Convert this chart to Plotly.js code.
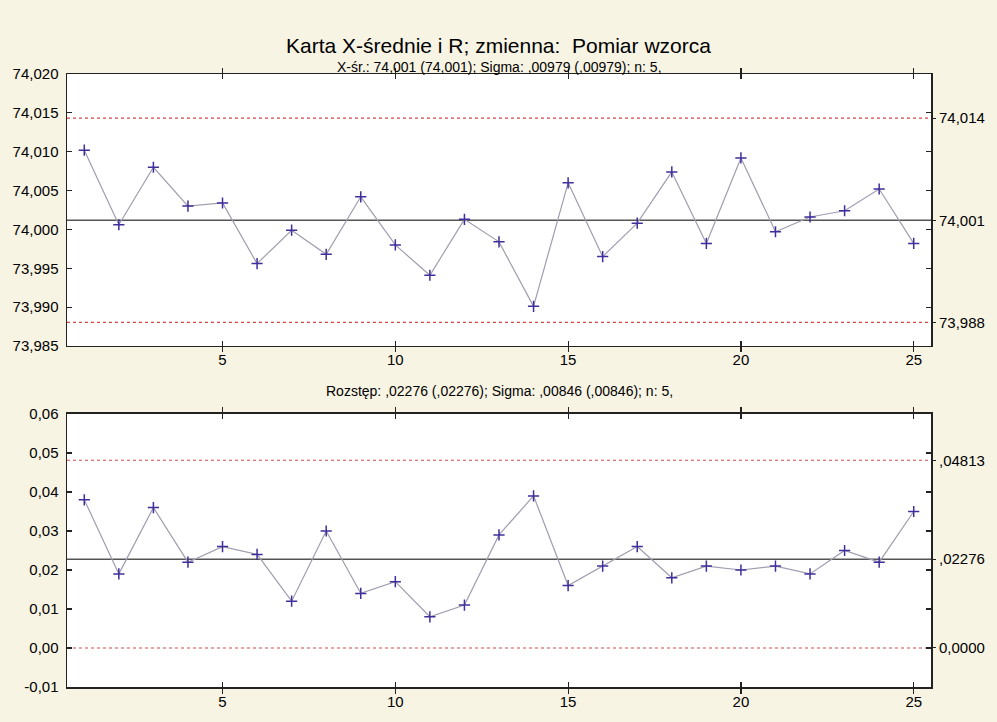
<!DOCTYPE html>
<html>
<head>
<meta charset="utf-8">
<script src="https://cdn.plot.ly/plotly-3.0.1.min.js"></script>
<style>
html,body{margin:0;padding:0;background:#f8f4e4;}
#chart{width:997px;height:722px;}
</style>
</head>
<body>
<div id="chart"></div>
<script>
// ---- data ----
const samples = [1,2,3,4,5,6,7,8,9,10,11,12,13,14,15,16,17,18,19,20,21,22,23,24,25];
const xbar = [74.0102,74.0006,74.0080,74.0030,74.0034,73.9956,73.9999,73.9968,74.0042,73.9980,
              73.9941,74.0013,73.9984,73.9901,74.0060,73.9965,74.0008,74.0074,73.9982,74.0092,
              73.9997,74.0016,74.0024,74.0052,73.9982];
const ranges = [0.038,0.019,0.036,0.022,0.026,0.024,0.012,0.030,0.014,0.017,
                0.008,0.011,0.029,0.039,0.016,0.021,0.026,0.018,0.021,0.020,
                0.021,0.019,0.025,0.022,0.035];
const xbarLimits = [73.98805, 74.00118, 74.01431];   // LCL, CL, UCL
const xbarLimitLabels = ["73,988", "74,001", "74,014"];
const rLimits = [0.0, 0.02276, 0.04813];
const rLimitLabels = ["0,0000", ",02276", ",04813"];
const xTickVals = [5,10,15,20,25];
const xTickText = ["5","10","15","20","25"];
const yTopTicks = [73.985,73.990,73.995,74.000,74.005,74.010,74.015,74.020];
const yTopTickText = ["73,985","73,990","73,995","74,000","74,005","74,010","74,015","74,020"];
const yBotTicks = [-0.01,0.00,0.01,0.02,0.03,0.04,0.05,0.06];
const yBotTickText = ["-0,01","0,00","0,01","0,02","0,03","0,04","0,05","0,06"];
const mainTitle = "Karta X-średnie i R; zmienna:  Pomiar wzorca";
const sub1 = "X-śr.: 74,001 (74,001); Sigma: ,00979 (,00979); n: 5,";
const sub2 = "Rozstęp: ,02276 (,02276); Sigma: ,00846 (,00846); n: 5,";

// ---- styling ----
const FONT = "Liberation Sans, Arial, sans-serif";
const lineCol = "#a29cae";
const markCol = "#3e2f9c";
const clCol = "#555555";
const limCol = "#d24a4a";

function series(y, xa, ya){
  return {
    x: samples, y: y, xaxis: xa, yaxis: ya, type: "scatter", mode: "lines+markers",
    line: {color: lineCol, width: 1.2},
    marker: {symbol: "cross-thin", size: 8, color: markCol, line: {color: markCol, width: 1.5}},
    showlegend: false, hoverinfo: "x+y"
  };
}
function dummy(xa, ya, y){
  return {x:[samples[0]], y:[y], xaxis: xa, yaxis: ya, mode: "markers",
          marker:{opacity:0}, showlegend:false, hoverinfo:"skip"};
}

const traces = [
  series(xbar, "x", "y"),
  series(ranges, "x2", "y2"),
  dummy("x", "y3", xbarLimits[1]),
  dummy("x2", "y4", rLimits[1])
];

function limShapes(vals, yref, xref){
  return vals.map((v, i) => ({
    type: "line", xref: xref + " domain", yref: yref, x0: 0, x1: 1, y0: v, y1: v,
    line: i === 1 ? {color: clCol, width: 1.6} : {color: limCol, width: 1.2, dash: "dot"},
    layer: "below"
  }));
}

const axBase = {
  showgrid: false, zeroline: false, showline: true, linecolor: "#222", linewidth: 1.5,
  mirror: "allticks", ticks: "inside", ticklen: 5, tickcolor: "#222", tickwidth: 1.2,
  tickfont: {family: FONT, size: 15, color: "#000"}
};

const layout = {
  width: 997, height: 722,
  paper_bgcolor: "#f8f4e4", plot_bgcolor: "#ffffff",
  margin: {l: 67, r: 66, t: 74, b: 35},
  font: {family: FONT, color: "#000"},
  title: {text: mainTitle, font: {family: FONT, size: 21, color: "#000"},
          x: 0.5, xanchor: "center", y: 0.937, yanchor: "middle", yref: "container"},
  xaxis: Object.assign({}, axBase, {domain: [0,1], anchor: "y", range: [0.5, 25.5],
          tickvals: xTickVals, ticktext: xTickText}),
  yaxis: Object.assign({}, axBase, {domain: [0.5563, 1], anchor: "x", range: [73.985, 74.020],
          tickvals: yTopTicks, ticktext: yTopTickText, ticklabelstandoff: 4}),
  xaxis2: Object.assign({}, axBase, {domain: [0,1], anchor: "y2", range: [0.5, 25.5],
          tickvals: xTickVals, ticktext: xTickText}),
  yaxis2: Object.assign({}, axBase, {domain: [0, 0.4454], anchor: "x2", range: [-0.01, 0.06],
          tickvals: yBotTicks, ticktext: yBotTickText, ticklabelstandoff: 4}),
  yaxis3: {overlaying: "y", side: "right", anchor: "x", range: [73.985, 74.020],
          tickvals: xbarLimits, ticktext: xbarLimitLabels, showgrid: false, zeroline: false,
          showline: false, ticks: "outside", ticklen: 4, tickcolor: "#222",
          tickfont: {family: FONT, size: 15, color: "#000"}},
  yaxis4: {overlaying: "y2", side: "right", anchor: "x2", range: [-0.01, 0.06],
          tickvals: rLimits, ticktext: rLimitLabels, showgrid: false, zeroline: false,
          showline: false, ticks: "outside", ticklen: 4, tickcolor: "#222",
          tickfont: {family: FONT, size: 15, color: "#000"}},
  shapes: limShapes(xbarLimits, "y", "x").concat(limShapes(rLimits, "y2", "x2")),
  annotations: [
    {text: sub1, xref: "paper", yref: "paper", x: 0.5, y: (687 - 67) / 613, xanchor: "center",
     yanchor: "middle", showarrow: false, font: {family: FONT, size: 14, color: "#000"}},
    {text: sub2, xref: "paper", yref: "paper", x: 0.5, y: (687 - 391) / 613, xanchor: "center",
     yanchor: "middle", showarrow: false, font: {family: FONT, size: 14, color: "#000"}}
  ]
};

Plotly.newPlot("chart", traces, layout, {displayModeBar: false, staticPlot: true});
</script>
</body>
</html>
